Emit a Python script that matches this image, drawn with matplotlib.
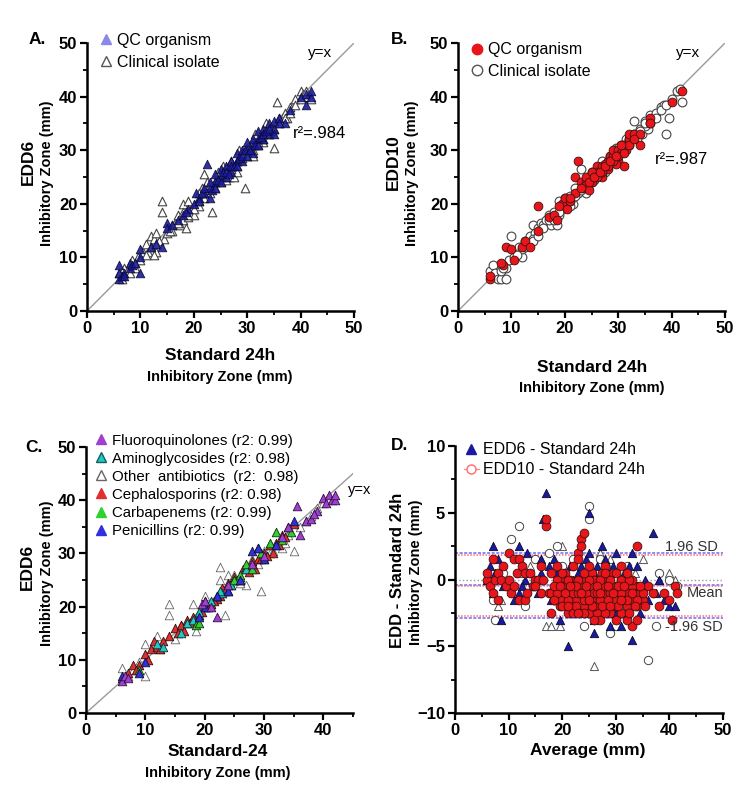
import matplotlib
matplotlib.use("Agg")
import matplotlib.pyplot as plt
from matplotlib.lines import Line2D
from matplotlib.ticker import MultipleLocator

plt.rcParams['font.family'] = ['Liberation Sans', 'DejaVu Sans']

# ---------------- Panel A data (Standard 24h vs EDD6) ----------------
a_qc_x = [6, 6, 6, 6.5, 7, 7, 8, 8, 8.5, 9,
          10, 10, 10, 12, 13, 14, 15, 15, 17, 18,
          19, 20, 20.5, 21, 22, 22.5, 23, 23, 24, 24,
          25, 25, 26, 26, 27, 27, 28, 28, 29, 29,
          30, 30, 31, 31, 32, 32, 33, 33, 34, 34,
          35, 35, 36, 37, 38, 40, 41, 41, 42, 42,
          21, 21.5, 22, 23, 23.5, 24, 24.5, 25, 25.5, 26,
          26.5, 27, 27.5, 28, 28.5, 29, 29.5, 30, 30.5, 31,
          31.5, 32, 32.5, 33, 33.5, 34, 35, 36, 16, 18.5]
a_qc_y = [6, 7, 8.5, 6.5, 7, 6.5, 8, 9, 8.5, 9,
          11.5, 10, 7, 12, 12.5, 12, 16.5, 15.5, 17, 18,
          19, 20, 22, 21, 22, 27.5, 23, 21, 24, 25.5,
          25, 26.5, 25, 27, 26, 28, 28, 29.5, 30, 28,
          30, 31.5, 31, 29.5, 32, 33.5, 34, 32, 33, 35,
          34, 35.5, 36, 35, 37.5, 40, 38.5, 40.5, 40, 41,
          20.5, 22, 23, 24, 22.5, 23, 24.5, 24, 26, 26,
          25.5, 27, 27, 27, 28.5, 29, 30, 29, 30, 32,
          31, 31, 32.5, 33, 33.5, 34, 33, 35, 16, 18.5]
a_cl_x = [6, 6.5, 7, 7.5, 8, 8.5, 9, 9.5, 10, 10.5,
          11, 11.5, 12, 12, 12.5, 13, 13, 14, 14, 14.5,
          15, 16, 16.5, 17, 17.5, 18, 18, 18.5, 19, 19.5,
          20, 20.5, 21, 21.5, 22, 22, 22.5, 23, 23.5, 24,
          24.5, 25, 25.5, 26, 26.5, 27, 27.5, 28, 28.5, 29,
          29.5, 30, 30.5, 31, 31.5, 32, 32.5, 33, 33.5, 34,
          34.5, 35, 35.5, 36, 37, 38, 39, 40, 41, 42,
          12.5, 13.5, 19, 21, 26, 28, 31, 33, 37.5, 40.5,
          16, 17, 18, 19, 20, 21, 22, 23, 24, 25,
          26, 27, 28, 29, 30, 31, 32, 33, 34, 35,
          36, 37, 38, 39, 40, 41, 9, 11, 13, 15.5]
a_cl_y = [7, 6, 8, 7.5, 7, 9.5, 8, 10, 9.5, 11,
          12.5, 11, 14, 12, 13.5, 11, 14.5, 20.5, 18.5, 13.5,
          14.5, 16, 16.5, 18, 16, 20, 17, 15.5, 17.5, 19,
          18, 20, 19.5, 23, 25.5, 21, 24, 22, 18.5, 23,
          26, 24, 27, 26.5, 25, 28, 25, 27, 30, 28.5,
          23, 29, 31, 30, 33, 31, 32.5, 33, 35, 34,
          33.5, 30.5, 39, 35, 37, 38, 39.5, 41, 40, 39.5,
          10.5, 13, 20.5, 20.5, 24.5, 26, 29, 31.5, 36, 40.5,
          15, 16.5, 18.5, 18, 19, 22, 22, 23.5, 24, 25.5,
          25, 26.5, 28, 29.5, 30.5, 31.5, 31.5, 32, 33, 34,
          36, 36, 37, 38.5, 39.5, 41, 9, 10.5, 12.5, 15]

# ---------------- Panel B data (Standard 24h vs EDD10) ----------------
b_qc_x = [6, 6, 8.5, 8, 9, 10, 10.5, 12, 12.5, 13.5,
          15, 15, 17, 18, 18.5, 19.5, 20, 20.5, 21, 22,
          22, 22.5, 23, 23.5, 24, 24, 24.5, 25, 25, 26,
          26, 27, 27, 28, 28, 28.5, 29, 29, 30, 30,
          31, 31, 31.5, 32, 32, 33, 34, 34, 36, 36,
          40, 42, 29.5, 30.5, 27.5,
          23, 24, 25, 26, 27, 28, 29, 30, 31, 32,
          33, 24.5, 25.5, 26.5, 27.5, 28.5, 29.5, 30.5, 19, 21]
b_qc_y = [6, 6.5, 8.5, 9, 12, 11.5, 9.5, 12, 13, 12,
          19.5, 15, 17.5, 18, 17, 20, 21, 19, 20.5, 22,
          25, 28, 24, 23, 24, 23.5, 22.5, 25, 24, 27,
          26, 27, 25, 28, 26.5, 29, 29, 30, 30, 28,
          31, 27, 30, 32, 33, 33, 31, 33, 36, 35,
          39, 41, 27.5, 29.5, 27.5,
          23, 25, 26, 25, 26, 27, 28, 29, 29.5, 31,
          32, 24, 25, 26, 27, 28, 29, 31, 19.5, 21]
b_cl_x = [6, 6.5, 7, 7.5, 8, 8, 9, 9, 9.5, 10,
          10.5, 11, 11.5, 12, 12.5, 13, 13.5, 14, 14.5, 15,
          15.5, 16, 16.5, 17, 17.5, 18, 18.5, 19, 19, 19.5,
          20, 20.5, 21, 21.5, 22, 22.5, 23, 23.5, 24, 24.5,
          25, 25.5, 26, 26.5, 27, 27.5, 28, 28.5, 29, 29.5,
          30, 30.5, 31, 31.5, 32, 32.5, 33, 33, 33.5, 34,
          34.5, 35, 35.5, 36, 37, 38, 39, 39.5, 41, 42,
          12, 14, 17.5, 21, 25, 27, 30, 35, 38.5, 41.5,
          16, 17, 18, 19, 20, 21, 22, 23, 24, 25,
          26, 27, 28, 29, 30, 31, 32, 33, 34, 35,
          36, 37, 38, 39, 40, 8.5, 11, 12.5, 14, 15]
b_cl_y = [7.5, 8.5, 7, 6, 6, 7.5, 6, 8, 9.5, 14,
          10, 11, 12, 10, 13, 12.5, 14, 16, 14.5, 15.5,
          16.5, 16, 17, 18, 16, 18.5, 16, 20.5, 18, 19,
          21, 19.5, 21.5, 20, 23, 22, 26.5, 24, 22, 25,
          26, 24.5, 25.5, 27, 28, 26, 27.5, 29, 28, 30.5,
          29, 31, 30, 32, 31, 32.5, 35.5, 33, 32, 34,
          33, 35.5, 34, 36.5, 37, 38, 33, 36, 41, 39,
          11.5, 13.5, 17.5, 19.5, 24, 25.5, 30, 34.5, 38.5, 41.5,
          15.5, 17, 17, 18.5, 19.5, 20.5, 21.5, 22.5, 23.5, 24.5,
          26, 26.5, 27, 29, 30.5, 31, 32, 32.5, 33.5, 35,
          35, 36, 37.5, 38.5, 39.5, 8, 10.5, 12, 13, 14]

# ---------------- Panel C data (by antibiotic class) ----------------
c_labels = ["Fluoroquinolones (r2: 0.99)", "Aminoglycosides (r2: 0.98)",
            "Other  antibiotics  (r2:  0.98)", "Cephalosporins (r2: 0.98)",
            "Carbapenems (r2: 0.99)", "Penicillins (r2: 0.99)"]
c_fq_x = [6, 6.5, 7, 19.5, 20, 21, 22, 24, 28, 30,
          33, 34, 35.5, 36, 37, 38, 39, 40, 40.5, 41, 41.5, 42, 42, 38.5]
c_fq_y = [6, 7, 6.5, 20.5, 21, 20, 18, 24, 28, 29.5,
          33, 35, 39, 33.5, 36, 36.5, 38, 40.5, 39.5, 41, 40, 40, 41, 37.5]
c_am_x = [12, 13, 16, 17, 18, 19, 20, 21, 22, 23, 24, 25, 26, 27, 22.5, 24.5]
c_am_y = [13, 12.5, 15, 17, 17.5, 19, 20, 21, 22, 22.5, 23, 25, 25.5, 27, 23, 24]
c_ot_x = [6, 7, 8, 9, 10, 10, 12, 12.5, 14, 14, 15, 18, 18.5, 19, 21,
          22.5, 22.5, 24, 23.5, 25, 27, 28, 29.5, 31, 33, 35, 36, 38, 40, 20,
          16, 20.5, 23, 25.5, 26, 27.5, 29, 30, 31.5, 33.5, 34, 37, 39]
c_ot_y = [8.5, 7, 8, 9.5, 7, 13, 14.5, 12, 20.5, 18.5, 14, 20.5, 15.5, 19, 20.5,
          27.5, 25, 26, 18.5, 26, 24, 29, 23, 30, 31, 30.5, 35, 37, 39.5, 22,
          16.5, 20, 22.5, 25, 24.5, 27, 28, 30.5, 30.5, 32, 33.5, 36, 38.5]
c_ce_x = [6, 7, 8, 9, 10, 11, 11.5, 12, 13, 14, 15, 16, 16.5, 17, 18, 19, 20, 20.5,
          21, 22, 23, 24, 25, 26, 26.5, 27, 28, 28.5, 29, 30, 31, 31.5, 32, 33, 34, 35,
          8.5, 10.5, 12.5, 15.5, 17.5, 19.5, 21.5, 22.5, 23.5, 24.5, 25.5, 27.5,
          29.5, 30.5, 32.5, 33.5]
c_ce_y = [6.5, 7.5, 9, 9, 11, 12, 13.5, 12.5, 13.5, 14.5, 16, 16.5, 15.5, 17.5, 18, 18.5, 21, 20,
          20.5, 21.5, 23.5, 24.5, 25.5, 25, 27, 27.5, 28.5, 27, 29, 30, 31.5, 30, 32, 33.5, 35, 35.5,
          8, 10, 12, 15, 17, 19, 21, 22, 23, 24, 25, 26.5,
          29, 29.5, 31.5, 33]
c_ca_x = [9, 18.5, 19, 22, 25, 26, 27, 29, 29.5, 30, 31, 32, 33, 34.5, 28]
c_ca_y = [8, 16.5, 17, 22, 25, 26, 28, 31, 30, 29, 32, 34, 32.5, 34, 27]
c_pe_x = [6, 9, 10, 19, 20, 22, 24, 26, 28, 29, 30, 35, 32]
c_pe_y = [7, 7.5, 9.5, 18, 20, 22, 23, 25, 30.5, 31, 29, 36, 31.5]

# ---------------- Panel D data (Bland-Altman) ----------------
d6_x = [6, 6.5, 7, 7, 7.5, 8, 8.5, 9, 10, 11,
        12, 12, 13, 13.5, 15, 16, 16.5, 17, 17.5, 18,
        19, 19.5, 20, 21, 21.5, 22, 23, 24, 24.5, 25,
        25, 25.5, 26, 26, 27, 27.5, 28, 28.5, 29, 29.5,
        30, 30.5, 31, 31.5, 32, 33, 33, 34, 35, 36,
        37, 37.5, 38, 39, 40, 41, 23, 26.5, 31, 34.5,
        14, 15.5, 18.5, 20.5, 22.5, 23.5, 26, 27, 28, 29,
        30, 32, 32.5, 33.5, 35.5, 22, 24, 19, 16, 12.5]
d6_y = [0, 1, 2.5, -1, 0.5, 1.5, -3, -0.5, 0, -1.5,
        2.5, -1, 0, 2, -0.5, 1.5, 4.5, 6.5, 1, -1.5,
        0.5, -3, -1, -5, 1, 0, -2, -1, 1.5, 5,
        2, -0.5, -4, -3, -1.5, 2.5, 0, -2, -3.5, 1,
        2, -1, -3.5, 0.5, -2.5, 2, -4.5, 1, -0.5, -1.5,
        3.5, -1, 0, -1.5, -2, -2, 0.5, 1, -1, -2.5,
        0.5, -1, 1.5, -0.5, -1, 1, 0.5, -2.5, 1.5, -0.5,
        -2.5, -1, 1, -1.5, 0, -1.5, -2, -1.5, 0.5, -0.5]
d6_cl_x = [8, 8.5, 12, 14, 17, 18, 19.5, 20, 22, 26, 27, 29,
           30, 32, 35, 38, 40, 41, 24, 28.5, 31, 33.5, 36, 21]
d6_cl_y = [-2, -1.5, 0.5, 1, -3.5, -3.5, -3.5, 2.5, 1.5, -6.5, 2, 1.5,
           -2, 1, 1.5, 0, 0.5, 0, -2.5, 1, -1.5, 0.5, -0.5, -0.5]
d10_x = [6, 6, 6.5, 7, 7, 7.5, 8, 8, 8.5, 9,
         9.5, 10, 10, 10.5, 11, 11, 11.5, 12, 12, 12.5,
         13, 13, 14, 14.5, 15, 15.5, 16, 16, 16.5, 17,
         17, 17.5, 18, 18, 18.5, 19, 19, 19.5, 20, 20,
         20.5, 21, 21, 21.5, 22, 22, 22.5, 23, 23, 23.5,
         23.5, 24, 24, 24, 24.5, 25, 25, 25.5, 26, 26,
         26.5, 27, 27, 27.5, 28, 28, 28.5, 29, 29, 29.5,
         30, 30, 30.5, 31, 31, 31.5, 32, 32, 32.5, 33,
         33, 33.5, 34, 34, 34.5, 35, 36, 37, 38, 39,
         40, 40.5, 41, 41.5, 13.5, 15, 22, 25, 28, 31,
         18, 19, 20, 21, 22, 23, 24, 25, 26, 27,
         28, 29, 30, 31, 32, 33, 34, 35, 19, 21,
         23, 25, 27, 29, 31, 33, 20, 22, 24, 26,
         28, 30, 32, 22.5, 26.5, 30.5, 18.5, 24.5, 28.5, 32.5,
         18.5, 19.5, 20.5, 21.5, 22.5, 23.5, 24.5, 25.5, 26.5, 27.5,
         28.5, 29.5, 30.5, 31.5, 32.5, 33.5, 34.5, 35.5, 21, 23,
         25, 27, 29, 31, 33, 20, 24, 28, 32, 26, 30, 34]
d10_y = [0, 0.5, -0.5, 1.5, -1, 0, 0.5, -1.5, 0, 1,
         -0.5, 2, 0, -1, 1.5, -0.5, 0.5, 1.5, -1.5, 1,
         -1.5, 0.5, 0.5, -0.5, 0, 0, -1, 1, 0, 4,
         4.5, -1, -2.5, 0.5, -1.5, 1, -0.5, -2, 0, -1.5,
         0.5, -1, -2.5, 0, -0.5, 1, -1.5, 2, 1.5, 3,
         2.5, 3.5, -0.5, -2, 0, -1, -2.5, 0.5, -1.5, 0,
         -2.5, -0.5, -3, 0.5, -1, -2, 0, -1.5, -2.5, 0.5,
         -0.5, -2, -1, 0, -2.5, -1.5, -0.5, -2, -1, -3.5,
         -1.5, -0.5, 2.5, -2, -1, -1.5, -0.5, -1, -2, -1,
         -1.5, -3, -0.5, -1, -1, -0.5, -2, 1, 1, 1,
         -1, -1, -0.5, -1.5, -1, -1, -1.5, -0.5, -1, -1.5,
         -0.5, -1, -1.5, -1, -1.5, -0.5, -1.5, -1, 0, 0,
         0, 0, 0, 0, 0, 0, -2, -2.5, -2.5, -2,
         -2.5, -3, -3, -0.5, -1, -0.5, -0.5, -1, -1.5, 0,
         -1.5, -0.5, -1, -0.5, -2, -1, -0.5, -2, -0.5, -2,
         -0.5, -1, -2, -0.5, -2.5, -2, -0.5, -2, -2, -2.5,
         -1.5, -1, -2, -1.5, -1, 0.5, 0.5, 0.5, 0.5, -3, 0.5, -3]
d10_cl_x = [7.5, 7, 10.5, 12, 15, 17.5, 19, 22, 24, 25, 25, 29,
            30, 32, 36, 37.5, 40, 41.5, 9, 20, 27, 34, 13, 38]
d10_cl_y = [-3, -1.5, 3, 4, 1.5, 2, 2.5, 1.5, -3.5, 5.5, 4.5, -4,
            -3.5, 1, -6, -3.5, 0, -0.5, 0.5, 1, 1.5, -0.5, -2, 0.5]
d6_limits = [2.0, -0.41, -2.9]      # +1.96 SD, mean, -1.96 SD
d10_limits = [1.8, -0.49, -2.73]

# ---------------- helpers ----------------
W, H = 750, 802
fig = plt.figure(figsize=(W / 100, H / 100), dpi=100)


def px_axes(l, r, t, b):
    return fig.add_axes([l / W, 1 - b / H, (r - l) / W, (b - t) / H])


def ftext(x, y, s, **kw):
    kw.setdefault('ha', 'center')
    kw.setdefault('va', 'center')
    fig.text(x / W, 1 - y / H, s, **kw)


def style(ax, xmaj, xmin, ymaj, ymin):
    for s in ['top', 'right']:
        ax.spines[s].set_visible(False)
    for s in ['left', 'bottom']:
        ax.spines[s].set_linewidth(1.8)
    ax.xaxis.set_major_locator(MultipleLocator(xmaj))
    ax.xaxis.set_minor_locator(MultipleLocator(xmin))
    ax.yaxis.set_major_locator(MultipleLocator(ymaj))
    ax.yaxis.set_minor_locator(MultipleLocator(ymin))
    ax.tick_params(which='major', direction='out', length=5, width=1.6,
                   labelsize=12, pad=2)
    ax.tick_params(which='minor', direction='out', length=3, width=1.3)
    for lab in ax.get_xticklabels() + ax.get_yticklabels():
        lab.set_fontweight('bold')


navy = '#1a1a9e'
red = '#e8161b'

# ---------------- Panel A ----------------
axA = px_axes(87, 354, 43, 311)
axA.plot([0, 50], [0, 50], color='#999999', lw=1.0, zorder=1)
axA.scatter(a_cl_x, a_cl_y, marker='^', s=38, facecolors='white',
            edgecolors='#444444', linewidths=0.8, zorder=2)
axA.scatter(a_qc_x, a_qc_y, marker='^', s=38, facecolors=navy,
            edgecolors='#0a0a30', linewidths=0.6, alpha=0.9, zorder=3)
axA.set_xlim(0, 50)
axA.set_ylim(0, 50)
style(axA, 10, 5, 10, 5)
axA.legend(handles=[
    Line2D([], [], marker='^', ls='', ms=7, mfc='#8a8ae6', mec='#8a8ae6'),
    Line2D([], [], marker='^', ls='', ms=7, mfc='white', mec='#555555')],
    labels=['QC organism', 'Clinical isolate'], loc='upper left',
    bbox_to_anchor=(0.0, 1.08), frameon=False, fontsize=11.5,
    handletextpad=0.2, labelspacing=0.45, borderpad=0.2, handlelength=1.0)
ftext(320, 53, 'y=x', fontsize=11)
ftext(320, 133, 'r²=.984', fontsize=12)
ftext(37, 40, 'A.', fontsize=12.5, fontweight='bold')
ftext(220, 355, 'Standard 24h', fontsize=12.5, fontweight='bold')
ftext(220, 377, 'Inhibitory Zone (mm)', fontsize=10.5, fontweight='bold')
ftext(28, 162, 'EDD6', fontsize=12.5, fontweight='bold', rotation=90)
ftext(47, 173, 'Inhibitory Zone (mm)', fontsize=10.5, fontweight='bold', rotation=90)

# ---------------- Panel B ----------------
axB = px_axes(458, 725, 43, 311)
axB.plot([0, 50], [0, 50], color='#999999', lw=1.0, zorder=1)
axB.scatter(b_cl_x, b_cl_y, marker='o', s=40, facecolors='white',
            edgecolors='#444444', linewidths=0.8, zorder=2)
axB.scatter(b_qc_x, b_qc_y, marker='o', s=40, facecolors=red,
            edgecolors='#401010', linewidths=0.6, zorder=3)
axB.set_xlim(0, 50)
axB.set_ylim(0, 50)
style(axB, 10, 5, 10, 5)
axB.legend(handles=[
    Line2D([], [], marker='o', ls='', ms=7.5, mfc=red, mec=red),
    Line2D([], [], marker='o', ls='', ms=7.5, mfc='white', mec='#555555')],
    labels=['QC organism', 'Clinical isolate'], loc='upper left',
    bbox_to_anchor=(0.0, 1.045), frameon=False, fontsize=11.5,
    handletextpad=0.2, labelspacing=0.4, borderpad=0.2, handlelength=1.0)
ftext(688, 53, 'y=x', fontsize=11)
ftext(682, 159, 'r²=.987', fontsize=12)
ftext(400, 40, 'B.', fontsize=12.5, fontweight='bold')
ftext(592, 367, 'Standard 24h', fontsize=12.5, fontweight='bold')
ftext(592, 388, 'Inhibitory Zone (mm)', fontsize=10.5, fontweight='bold')
ftext(393, 162, 'EDD10', fontsize=12.5, fontweight='bold', rotation=90)
ftext(412, 173, 'Inhibitory Zone (mm)', fontsize=10.5, fontweight='bold', rotation=90)

# ---------------- Panel C ----------------
axC = px_axes(86, 353, 447, 713)
axC.plot([0, 45], [0, 45], color='#999999', lw=1.0, zorder=1)
c_series = [(c_ot_x, c_ot_y, 'white', '#666666'),
            (c_ce_x, c_ce_y, '#e03030', '#301010'),
            (c_am_x, c_am_y, '#20c8c8', '#103030'),
            (c_ca_x, c_ca_y, '#30d030', '#103010'),
            (c_pe_x, c_pe_y, '#3030e0', '#101030'),
            (c_fq_x, c_fq_y, '#a040d0', '#301040')]
for xs, ys, fc, ec in c_series:
    axC.scatter(xs, ys, marker='^', s=38, facecolors=fc, edgecolors=ec,
                linewidths=0.6, zorder=3 if fc != 'white' else 2)
axC.set_xlim(0, 45)
axC.set_ylim(0, 50)
style(axC, 10, 5, 10, 5)
leg_c_colors = [('#a040d0', '#a040d0'), ('#20c8c8', '#106060'), ('white', '#666666'),
                ('#e03030', '#e03030'), ('#30d030', '#30d030'), ('#3030e0', '#3030e0')]
axC.legend(handles=[Line2D([], [], marker='^', ls='', ms=7, mfc=fc, mec=ec)
                    for fc, ec in leg_c_colors],
           labels=c_labels, loc='upper left', bbox_to_anchor=(-0.01, 1.09),
           frameon=False, fontsize=10.8, handletextpad=0.2, labelspacing=0.27,
           borderpad=0.2, handlelength=1.0)
ftext(360, 490, 'y=x', fontsize=10.5)
ftext(34, 447, 'C.', fontsize=12.5, fontweight='bold')
ftext(218, 752, 'Standard-24', fontsize=12.5, fontweight='bold')
ftext(218, 773, 'Inhibitory Zone (mm)', fontsize=10.5, fontweight='bold')
ftext(27, 567, 'EDD6', fontsize=12.5, fontweight='bold', rotation=90)
ftext(47, 573, 'Inhibitory Zone (mm)', fontsize=10.5, fontweight='bold', rotation=90)

# ---------------- Panel D ----------------
axD = px_axes(455, 723, 446, 713)
axD.axhline(0, color='#999999', lw=1.0, ls=':', zorder=1)
for val in d6_limits:
    axD.axhline(val, color='#6a6aff', lw=1.1, ls=(0, (2, 1)), zorder=1)
for val in d10_limits:
    axD.axhline(val, color='#ff6a6a', lw=1.1, ls=(0, (1, 1)), zorder=1)
axD.scatter(d6_cl_x, d6_cl_y, marker='^', s=34, facecolors='white',
            edgecolors='#555555', linewidths=0.7, zorder=2)
axD.scatter(d10_cl_x, d10_cl_y, marker='o', s=36, facecolors='white',
            edgecolors='#444444', linewidths=0.7, zorder=2)
axD.scatter(d6_x, d6_y, marker='^', s=36, facecolors=navy,
            edgecolors='#0a0a30', linewidths=0.6, zorder=3)
axD.scatter(d10_x, d10_y, marker='o', s=40, facecolors=red,
            edgecolors='#401010', linewidths=0.6, zorder=4)
axD.set_xlim(0, 50)
axD.set_ylim(-10, 10)
style(axD, 10, 5, 5, 2.5)
axD.legend(handles=[
    Line2D([], [], marker='^', ls='', ms=6.5, mfc=navy, mec=navy),
    Line2D([], [], marker='o', ls='-', lw=0.8, color='#ff8080', ms=6.5,
           mfc='white', mec='#ff6a6a')],
    labels=['EDD6 - Standard 24h', 'EDD10 - Standard 24h'], loc='upper left',
    bbox_to_anchor=(-0.01, 1.055), frameon=False, fontsize=11.5,
    handletextpad=0.2, labelspacing=0.3, borderpad=0.2, handlelength=1.0)
ftext(691, 547, '1.96 SD', fontsize=10.5, color='#333333')
ftext(705, 593, 'Mean', fontsize=10.5, color='#333333')
ftext(694, 627, '-1.96 SD', fontsize=10.5, color='#333333')
ftext(400, 445, 'D.', fontsize=12.5, fontweight='bold')
ftext(588, 750, 'Average (mm)', fontsize=12.5, fontweight='bold')
ftext(397, 570, 'EDD - Standard 24h', fontsize=12, fontweight='bold', rotation=90)
ftext(416, 572, 'Inhibitory Zone (mm)', fontsize=10.5, fontweight='bold', rotation=90)

fig.savefig('out.png', dpi=100)
